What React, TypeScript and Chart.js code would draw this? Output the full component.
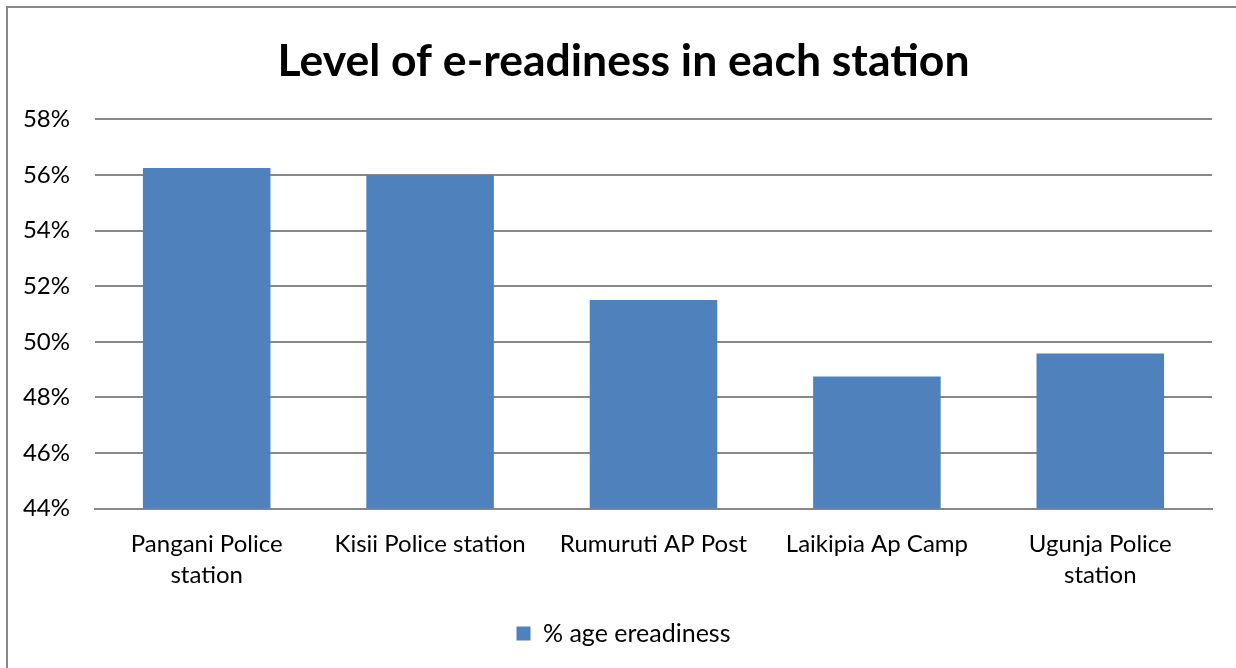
import React, { useEffect, useRef } from "react";
import { Chart, registerables } from "chart.js";

Chart.register(...registerables);

const categories: (string | string[])[] = [
  ["Pangani Police", "station"],
  "Kisii Police station",
  "Rumuruti AP Post",
  "Laikipia Ap Camp",
  ["Ugunja Police", "station"],
];
const ereadiness: number[] = [56.25, 56.0, 51.5, 48.75, 49.58];
const seriesName = "% age ereadiness";
const chartTitle = "Level of e-readiness in each station";
const yMin = 44;
const yMax = 58;
const yStep = 2;

const FONT = "Lato, 'Open Sans', sans-serif";

const borderPlugin = {
  id: "outerBorder",
  afterDraw(chart: any) {
    const ctx = chart.ctx;
    ctx.save();
    ctx.strokeStyle = "#878787";
    ctx.lineWidth = 2;
    ctx.strokeRect(7, 7, chart.width + 20, chart.height + 20);
    ctx.restore();
  },
};

export default function App() {
  const ref = useRef<HTMLCanvasElement>(null);
  useEffect(() => {
    document.body.style.margin = "0";
    const chart = new Chart(ref.current!, {
      type: "bar",
      data: {
        labels: categories,
        datasets: [
          {
            label: seriesName,
            data: ereadiness,
            backgroundColor: "#4F81BD",
            borderColor: "#4F81BD",
            categoryPercentage: 1,
            barPercentage: 0.571,
          },
        ],
      },
      plugins: [borderPlugin],
      options: {
        animation: false,
        responsive: false,
        maintainAspectRatio: false,
        layout: { autoPadding: false, padding: { left: 22, right: 11, top: 35, bottom: 12 } },
        plugins: {
          title: {
            display: true,
            text: chartTitle,
            color: "#000",
            font: { family: FONT, size: 44.5, weight: "bold" },
            padding: { top: 0, bottom: 31 },
          },
          legend: {
            position: "bottom",
            labels: {
              color: "#000",
              font: { family: FONT, size: 25 },
              boxWidth: 14,
              boxHeight: 14,
              padding: 10,
            },
          },
          tooltip: { enabled: false },
        },
        scales: {
          x: {
            grid: { display: false, drawTicks: false },
            border: { display: true, color: "#878787", width: 2 },
            ticks: {
              color: "#000",
              font: { family: FONT, size: 24, lineHeight: 1.3 },
              padding: 20,
              maxRotation: 0,
              autoSkip: false,
            },
          },
          y: {
            min: yMin,
            max: yMax,
            grid: { color: "#878787", lineWidth: 2, drawTicks: false },
            border: { display: false },
            afterFit: (scale: any) => {
              scale.width = 73;
            },
            ticks: {
              stepSize: yStep,
              color: "#000",
              font: { family: FONT, size: 24 },
              padding: 25,
              callback: (v: any) => `${v}%`,
            },
          },
          ySpacer: {
            type: "linear",
            position: "right",
            display: true,
            grid: { display: false, drawTicks: false },
            border: { display: false },
            ticks: { display: false },
            afterFit: (scale: any) => {
              scale.width = 13;
            },
          },
        },
      },
    });
    return () => chart.destroy();
  }, []);
  return (
    <div style={{ width: 1236, height: 668, background: "#fff" }}>
      <canvas ref={ref} width={1236} height={668} />
    </div>
  );
}
